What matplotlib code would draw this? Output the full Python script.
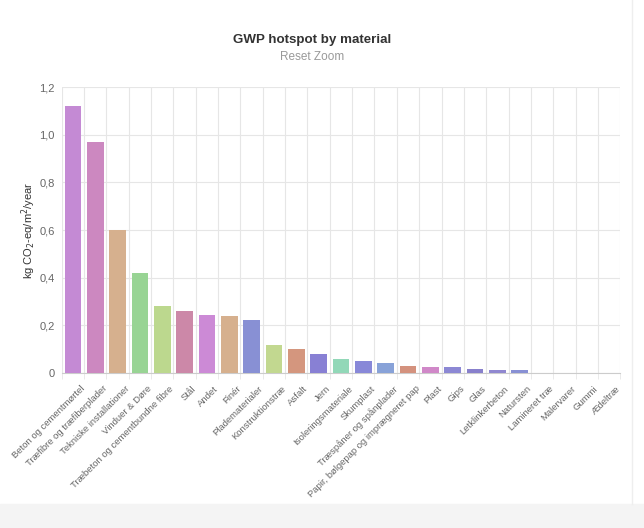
import numpy as np
import matplotlib.pyplot as plt
import matplotlib.transforms as mtransforms
from matplotlib.patches import Rectangle

plt.rcParams['font.family'] = ['Liberation Sans', 'DejaVu Sans']

materials = ['Beton og cementmørtel', 'Træfibre og træfiberplader', 'Tekniske installationer',
             'Vinduer & Døre', 'Træbeton og cementbundne fibre', 'Stål', 'Andet', 'Finér',
             'Pladematerialer', 'Konstruktionstræ', 'Asfalt', 'Jern', 'Isoleringsmateriale',
             'Skumplast', 'Træspåner og spånplader', 'Papir, bølgepap og imprægneret pap',
             'Plast', 'Gips', 'Glas', 'Letklinkerbeton', 'Natursten', 'Lamineret træ',
             'Malervarer', 'Gummi', 'Ædeltræ']
gwp = [1.12, 0.968, 0.60, 0.418, 0.281, 0.259, 0.242, 0.239, 0.224, 0.116, 0.099,
       0.080, 0.060, 0.050, 0.041, 0.029, 0.025, 0.024, 0.018, 0.014, 0.014,
       0.002, 0.001, 0.0006, 0.0006]
ytick_labels = ['0', '0,2', '0,4', '0,6', '0,8', '1,0', '1,2']
colors = ['#c48ad4', '#cc88c0', '#d6b08e', '#98d494', '#bcd88e', '#cc88a8', '#cc8ad6',
          '#d6b08e', '#8890d4', '#c2d890', '#d4967e', '#8880d4', '#92d8b8', '#8888d8',
          '#88a2d8', '#d4927e', '#d088c8', '#8c88d4', '#8880cc', '#9088d0', '#8890d4',
          '#c0c0c0', '#c0c0c0', '#c0c0c0', '#c0c0c0']

fig = plt.figure(figsize=(6.44, 5.28), dpi=100)
ax = fig.add_axes([0.096, 0.2936, 0.867, 0.5414])

x = np.arange(len(materials))
ax.bar(x, gwp, width=0.76, color=colors, zorder=3)

ax.set_xlim(-0.5, len(materials) - 0.5)
ax.set_ylim(0, 1.2)
ax.set_yticks(np.arange(0, 1.21, 0.2))
ax.set_yticklabels(ytick_labels)
ax.set_xticks(x)
ax.set_xticklabels(materials, rotation=45, ha='right', rotation_mode='anchor')
ax.set_xticks(np.arange(-0.5, len(materials), 1), minor=True)

ax.grid(axis='y', color='#e6e6e6', linewidth=0.8, zorder=0)
ax.grid(axis='x', which='minor', color='#e6e6e6', linewidth=0.8, zorder=0)
ax.tick_params(axis='x', which='major', length=0, labelsize=6.8, colors='#666666', pad=8)
ax.tick_params(axis='x', which='minor', length=4, color='#e6e6e6')
ax.tick_params(axis='y', length=0, labelsize=8, colors='#666666', pad=5)
for s in ['top', 'right', 'left']:
    ax.spines[s].set_visible(False)
ax.spines['bottom'].set_color('#cccccc')

# shift the rotated labels a bit right, like the original
offset = mtransforms.ScaledTranslation(5 / 72, 0, fig.dpi_scale_trans)
for lbl in ax.get_xticklabels():
    lbl.set_transform(lbl.get_transform() + offset)

ax.set_ylabel('kg CO$_2$-eq/m$^2$/year', fontsize=8, color='#333333', labelpad=1)

fig.text(0.485, 0.925, 'GWP hotspot by material', ha='center', va='center',
         fontsize=9.6, fontweight='bold', color='#333333')
fig.text(0.485, 0.892, 'Reset Zoom', ha='center', va='center', fontsize=8.5, color='#999999')

# light panel edge / shading of the page around the chart
fig.patches.append(Rectangle((0, 0), 1, 0.045, transform=fig.transFigure,
                             color='#f4f4f4', zorder=0))
fig.lines.append(plt.Line2D([0.982, 0.982], [0.045, 1], transform=fig.transFigure,
                            color='#eeeeee', linewidth=1))

fig.savefig('out.png', dpi=100)
